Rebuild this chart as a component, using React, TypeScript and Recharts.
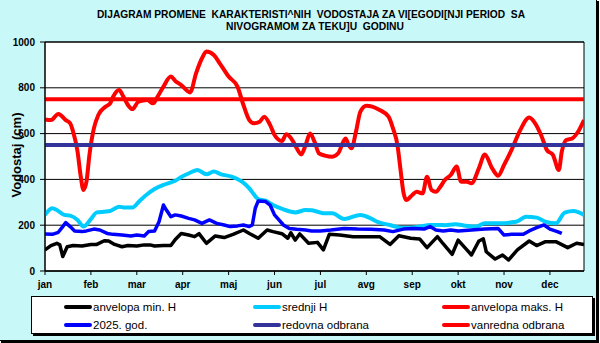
import React from 'react';
import { LineChart, Line, XAxis, YAxis, CartesianGrid, Legend, ReferenceArea } from 'recharts';

// x axis is day of year, a month label every 31 days like the original sheet
const months = ['jan', 'feb', 'mar', 'apr', 'maj', 'jun', 'jul', 'avg', 'sep', 'okt', 'nov', 'dec'];
const monthTicks = [0, 31, 62, 93, 124, 155, 186, 217, 248, 279, 310, 341];
const levelTicks = [0, 200, 400, 600, 800, 1000];

// anvelopa maks. H
const maxDays = [0, 4, 9, 14, 17, 19, 22, 24, 26, 28, 30, 33, 36, 41, 44, 46, 50, 53, 56, 59, 63, 69, 73, 76, 80, 85, 88, 92, 98, 102, 106, 109, 114, 118, 124, 130, 134, 138, 141, 145, 148, 152, 155, 160, 163, 167, 170, 173, 176, 179, 182, 185, 189, 194, 198, 203, 205, 207, 210, 213, 217, 221, 226, 232, 235, 238, 240, 242, 244, 248, 251, 255, 258, 261, 264, 267, 270, 274, 278, 281, 285, 288, 293, 297, 302, 306, 310, 315, 321, 327, 331, 335, 339, 343, 347, 349, 352, 356, 360, 364];
const maxH = [662, 659, 686, 659, 645, 608, 521, 419, 354, 390, 507, 623, 681, 718, 732, 761, 790, 761, 725, 707, 739, 747, 732, 761, 805, 849, 830, 812, 780, 863, 929, 958, 943, 907, 849, 805, 725, 659, 645, 652, 674, 638, 594, 568, 597, 572, 536, 509, 550, 600, 565, 514, 504, 499, 514, 579, 550, 536, 608, 696, 722, 718, 703, 674, 623, 550, 448, 346, 310, 332, 346, 339, 412, 354, 346, 368, 397, 419, 456, 390, 390, 383, 448, 509, 448, 416, 463, 528, 616, 670, 645, 594, 528, 507, 441, 521, 572, 579, 608, 659];

// srednji H
const meanDays = [0, 5, 8, 13, 17, 22, 26, 31, 35, 40, 44, 50, 54, 59, 64, 69, 74, 80, 85, 88, 92, 98, 103, 109, 114, 119, 126, 133, 138, 141, 144, 149, 154, 161, 169, 176, 180, 184, 188, 194, 202, 213, 220, 225, 233, 240, 247, 253, 260, 267, 270, 277, 284, 291, 297, 306, 318, 325, 332, 338, 345, 351, 357, 364];
const meanH = [245, 274, 266, 245, 242, 223, 194, 227, 256, 259, 262, 281, 277, 277, 307, 335, 358, 376, 387, 394, 410, 429, 441, 422, 434, 422, 412, 390, 361, 335, 314, 307, 288, 269, 256, 266, 265, 259, 252, 252, 227, 245, 230, 213, 201, 189, 189, 194, 201, 201, 200, 204, 198, 194, 208, 208, 215, 237, 233, 215, 208, 255, 262, 245];

// 2025. god.
const curDays = [0, 5, 9, 12, 14, 17, 20, 25, 28, 33, 37, 42, 46, 52, 58, 62, 67, 70, 74, 77, 80, 82, 85, 88, 92, 97, 101, 106, 111, 116, 121, 125, 130, 134, 138, 140, 142, 144, 149, 152, 155, 158, 161, 165, 170, 176, 180, 186, 193, 202, 211, 220, 229, 235, 242, 249, 256, 260, 264, 269, 274, 279, 288, 297, 306, 310, 315, 323, 327, 332, 337, 341, 346, 349];
const curH = [162, 160, 169, 194, 211, 194, 175, 172, 175, 183, 179, 164, 160, 157, 153, 157, 153, 172, 175, 215, 288, 266, 237, 245, 240, 230, 223, 208, 223, 208, 201, 194, 197, 201, 194, 201, 274, 306, 303, 288, 245, 223, 201, 186, 182, 179, 175, 175, 179, 186, 183, 182, 179, 172, 183, 186, 183, 194, 179, 175, 179, 175, 179, 183, 186, 157, 160, 160, 175, 189, 201, 183, 172, 164];

// anvelopa min. H
const minDays = [0, 4, 8, 10, 12, 15, 19, 25, 31, 35, 40, 43, 47, 52, 56, 62, 67, 71, 74, 80, 85, 88, 92, 97, 101, 104, 109, 115, 121, 127, 134, 138, 144, 150, 154, 160, 164, 166, 169, 172, 178, 184, 188, 192, 199, 208, 217, 226, 233, 239, 247, 253, 258, 265, 269, 275, 279, 284, 288, 293, 296, 298, 304, 309, 313, 319, 327, 332, 338, 345, 353, 359, 364];
const minH = [92, 111, 121, 114, 63, 106, 111, 109, 116, 116, 132, 131, 116, 106, 111, 109, 114, 114, 109, 111, 111, 138, 164, 157, 150, 163, 121, 153, 146, 160, 179, 164, 143, 179, 172, 163, 143, 167, 135, 162, 121, 125, 92, 160, 157, 150, 150, 150, 116, 154, 143, 140, 102, 150, 118, 73, 135, 99, 70, 131, 140, 84, 52, 70, 48, 92, 131, 111, 128, 128, 102, 121, 116];

// odbrana levels
const levelDays = [0, 364];
const redovnaH = [550, 550];
const vanrednaH = [750, 750];

const toRows = (days: number[], vals: number[]) => days.map((d, i) => ({ day: d, h: vals[i] }));

const legendItems = [
  { name: 'anvelopa min. H', color: '#000000' },
  { name: 'srednji H', color: '#00CCFF' },
  { name: 'anvelopa maks. H', color: '#FF0000' },
  { name: '2025. god.', color: '#0000FF' },
  { name: 'redovna odbrana', color: '#333399' },
  { name: 'vanredna odbrana', color: '#FF0000' },
];

const FONT = '"Liberation Sans", Arial, sans-serif';

const renderLegend = () => (
  <div
    style={{
      position: 'relative',
      width: 562,
      height: 38,
      boxSizing: 'border-box',
      background: '#fff',
      border: '1px solid #000',
      boxShadow: '2px 2px 0 #000',
      fontFamily: FONT,
      fontSize: 11.5,
      color: '#000',
    }}
  >
    {legendItems.map((it, i) => {
      const col = i % 3;
      const row = Math.floor(i / 3);
      return (
        <div
          key={it.name}
          style={{
            position: 'absolute',
            left: [32, 221, 410][col],
            top: row === 0 ? 3 : 21,
            height: 14,
            display: 'flex',
            alignItems: 'center',
            whiteSpace: 'nowrap',
          }}
        >
          <span style={{ display: 'inline-block', width: 28, height: 4, borderRadius: 2, background: it.color }} />
          <span style={{ marginLeft: 1 }}>{it.name}</span>
        </div>
      );
    })}
  </div>
);

export default function App() {
  return (
    <div style={{ position: 'absolute', left: 0, top: 0, width: 600, height: 343, overflow: 'hidden' }}>
      <div
        style={{
          position: 'absolute',
          left: -1,
          top: -1,
          width: 598,
          height: 342,
          boxSizing: 'border-box',
          border: '1px solid #000',
          boxShadow: '2px 2px 0 #000',
          background: '#C9F8F8',
        }}
      />
      <svg width={600} height={343} style={{ position: 'absolute', left: 0, top: 0 }}>
        <text x={311} y={17.5} textAnchor="middle" fontFamily={FONT} fontWeight="bold" fontSize={10}
          textLength={428} lengthAdjust="spacingAndGlyphs" style={{ whiteSpace: 'pre' }}>
          {'DIJAGRAM PROMENE  KARAKTERISTI^NIH  VODOSTAJA ZA VI[EGODI[NJI PERIOD  SA'}
        </text>
        <text x={315} y={29.5} textAnchor="middle" fontFamily={FONT} fontWeight="bold" fontSize={10}
          textLength={178} lengthAdjust="spacingAndGlyphs" style={{ whiteSpace: 'pre' }}>
          {'NIVOGRAMOM ZA TEKU]U  GODINU'}
        </text>
        <text x={0} y={0} transform="translate(20.5,155) rotate(-90)" textAnchor="middle"
          fontFamily={FONT} fontWeight="bold" fontSize={13}>
          Vodostaj (cm)
        </text>
      </svg>
      <div style={{ position: 'absolute', left: 0, top: 0 }}>
        <LineChart width={600} height={343} margin={{ top: 42, right: 16, left: 0, bottom: 52 }}>
          <CartesianGrid
            vertical={false}
            stroke="#000"
            strokeWidth={1}
            fill="#fff"
            fillOpacity={1}
          />
          <XAxis
            dataKey="day"
            type="number"
            domain={[0, 364]}
            ticks={monthTicks}
            tickFormatter={(v: number) => months[monthTicks.indexOf(v)] ?? ''}
            allowDataOverflow
            height={20}
            stroke="#000"
            tickSize={4}
            tickMargin={6}
            tick={{ fill: '#000', fontSize: 10, fontWeight: 'bold', fontFamily: FONT }}
            interval={0}
          />
          <YAxis
            type="number"
            domain={[0, 1000]}
            ticks={levelTicks}
            width={45}
            stroke="#000"
            tickSize={5}
            tickMargin={5}
            tick={{ fill: '#000', fontSize: 10, fontWeight: 'bold', fontFamily: FONT }}
            interval={0}
          />
          <ReferenceArea x1={0} x2={364} y1={0} y2={1000} fill="none" stroke="#000" strokeWidth={1} ifOverflow="visible" />
          <Legend
            layout="vertical"
            align="center"
            verticalAlign="middle"
            content={renderLegend}
            wrapperStyle={{ position: 'absolute', left: 31, top: 296, width: 562, height: 38 }}
          />
          <Line data={toRows(minDays, minH)} dataKey="h" name="anvelopa min. H" type="linear" stroke="#000000"
            strokeWidth={3.5} dot={false} strokeLinejoin="round" isAnimationActive={false} />
          <Line data={toRows(meanDays, meanH)} dataKey="h" name="srednji H" type="monotone" stroke="#00CCFF"
            strokeWidth={4} dot={false} strokeLinejoin="round" isAnimationActive={false} />
          <Line data={toRows(maxDays, maxH)} dataKey="h" name="anvelopa maks. H" type="monotone" stroke="#FF0000"
            strokeWidth={4} dot={false} strokeLinejoin="round" isAnimationActive={false} />
          <Line data={toRows(curDays, curH)} dataKey="h" name="2025. god." type="linear" stroke="#0000FF"
            strokeWidth={3.5} dot={false} strokeLinejoin="round" isAnimationActive={false} />
          <Line data={toRows(levelDays, redovnaH)} dataKey="h" name="redovna odbrana" type="linear" stroke="#333399"
            strokeWidth={4} dot={false} isAnimationActive={false} />
          <Line data={toRows(levelDays, vanrednaH)} dataKey="h" name="vanredna odbrana" type="linear" stroke="#FF0000"
            strokeWidth={4} dot={false} isAnimationActive={false} />
        </LineChart>
      </div>
    </div>
  );
}
